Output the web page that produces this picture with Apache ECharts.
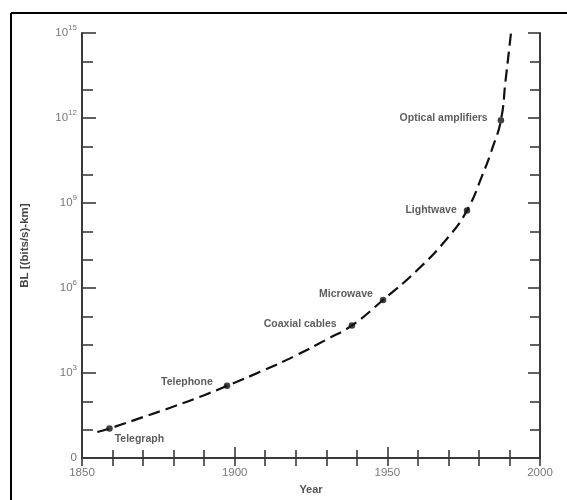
<!DOCTYPE html>
<html>
<head>
<meta charset="utf-8">
<script src="https://cdn.jsdelivr.net/npm/echarts@6/dist/echarts.min.js"></script>
<style>html,body{margin:0;padding:0;background:#fff}#c{width:567px;height:500px}</style>
</head>
<body>
<div id="c"></div>
<script>
// Dashed trend curve: year and BL [(bits/s)-km]
const curveYears = [1855, 1859, 1870, 1880, 1890, 1897.5, 1910, 1920, 1930, 1938.4, 1948.6, 1960, 1970, 1976.1, 1981, 1984.6, 1987.2, 1988.7, 1990.5];
const curveBL = [8.3, 11, 28, 66, 166, 355, 1320, 4170, 15100, 48000, 380000, 4.5e6, 6.3e7, 5.5e8, 8.9e9, 1e11, 8.3e11, 2e13, 1e15];

// Marked milestones
const milestones = ['Telegraph', 'Telephone', 'Coaxial cables', 'Microwave', 'Lightwave', 'Optical amplifiers'];
const milestoneYears = [1859, 1897.5, 1938.4, 1948.6, 1976.1, 1987.2];
const milestoneBL = [11, 355, 48000, 380000, 5.5e8, 8.3e11];

// Axis ticks
const xTickLabels = [1850, 1900, 1950, 2000];
const yTickExponents = [0, 3, 6, 9, 12, 15];

// label placement (style only)
const labelPlacement = [
  {position: 'right', distance: 2, offset: [0, 11]},
  {position: 'left', distance: 11, offset: [0, -4]},
  {position: 'left', distance: 12, offset: [0, -1]},
  {position: 'left', distance: 7, offset: [0, -6]},
  {position: 'left', distance: 7, offset: [0, 0]},
  {position: 'left', distance: 10, offset: [0, -2]}
];

const FONT = '"Liberation Sans", Arial, sans-serif';
const toExp = v => Math.log10(v);

const chart = echarts.init(document.getElementById('c'), null, {renderer: 'canvas'});

const axisLineStyle = {color: '#3a3a3a', width: 2};

chart.setOption({
  animation: false,
  backgroundColor: '#fff',
  grid: {left: 82, right: 27, top: 33, bottom: 38, containLabel: false},
  graphic: [
    {type: 'line', shape: {x1: 11, y1: 13, x2: 567, y2: 13}, style: {stroke: '#000', lineWidth: 2}, silent: true},
    {type: 'line', shape: {x1: 11, y1: 13, x2: 11, y2: 500}, style: {stroke: '#000', lineWidth: 2}, silent: true}
  ],
  xAxis: [{
    type: 'value', min: 1850, max: 2000, interval: 50, position: 'bottom',
    name: 'Year', nameLocation: 'middle', nameGap: 22,
    nameTextStyle: {fontFamily: FONT, fontSize: 11, fontWeight: 'bold', color: '#555'},
    axisLine: {show: true, lineStyle: axisLineStyle},
    axisTick: {show: true, inside: true, length: 11, lineStyle: {color: '#3a3a3a', width: 1.6}},
    minorTick: {show: true, splitNumber: 5, length: 8, lineStyle: {color: '#3a3a3a', width: 1.6}},
    axisLabel: {
      margin: 9, fontFamily: FONT, fontSize: 11.5, color: '#777',
      formatter: v => xTickLabels.indexOf(v) >= 0 ? String(v) : ''
    },
    splitLine: {show: false}
  }, {
    type: 'value', min: 1850, max: 2000, interval: 50, position: 'top',
    axisLine: {show: true, lineStyle: axisLineStyle},
    axisTick: {show: true, inside: true, length: 8, lineStyle: {color: '#3a3a3a', width: 1.6}},
    minorTick: {show: true, splitNumber: 5, length: 8, lineStyle: {color: '#3a3a3a', width: 1.6}},
    axisLabel: {show: false},
    splitLine: {show: false}
  }],
  yAxis: [{
    type: 'value', min: 0, max: 15, interval: 3, position: 'left',
    name: 'BL [(bits/s)-km]', nameLocation: 'middle', nameGap: 51, nameRotate: 90,
    nameTextStyle: {fontFamily: FONT, fontSize: 11.5, fontWeight: 'bold', color: '#444'},
    axisLine: {show: true, lineStyle: axisLineStyle},
    axisTick: {show: true, inside: true, length: 14, lineStyle: {color: '#3a3a3a', width: 1.6}},
    minorTick: {show: true, splitNumber: 3, length: 11, lineStyle: {color: '#3a3a3a', width: 1.6}},
    axisLabel: {
      margin: 5, fontFamily: FONT, color: '#777',
      formatter: v => {
        if (yTickExponents.indexOf(v) < 0) return '';
        return v === 0 ? '{b|0}' : '{b|10}{s|' + v + '}';
      },
      rich: {
        b: {fontFamily: FONT, fontSize: 11.5, color: '#777'},
        s: {fontFamily: FONT, fontSize: 8, color: '#777', padding: [0, 0, 10, 0], verticalAlign: 'bottom'}
      }
    },
    splitLine: {show: false}
  }, {
    type: 'value', min: 0, max: 15, interval: 3, position: 'right',
    axisLine: {show: true, lineStyle: axisLineStyle},
    axisTick: {show: true, inside: true, length: 12, lineStyle: {color: '#3a3a3a', width: 1.6}},
    minorTick: {show: true, splitNumber: 3, length: 10, lineStyle: {color: '#3a3a3a', width: 1.6}},
    axisLabel: {show: false},
    splitLine: {show: false}
  }],
  series: [{
    type: 'line',
    xAxisIndex: 0, yAxisIndex: 0,
    data: curveYears.map((y, i) => [y, toExp(curveBL[i])]),
    smooth: 0.5,
    showSymbol: false,
    clip: true,
    lineStyle: {color: '#111', width: 2.2, type: [12, 6]},
    z: 3
  }, {
    type: 'scatter',
    xAxisIndex: 0, yAxisIndex: 0,
    symbol: 'circle', symbolSize: 6.5,
    itemStyle: {color: '#111'},
    data: milestones.map((name, i) => ({
      name: name,
      value: [milestoneYears[i], toExp(milestoneBL[i])],
      label: Object.assign({show: true, formatter: '{b}'}, labelPlacement[i])
    })),
    label: {fontFamily: FONT, fontSize: 10.5, fontWeight: 'bold', color: '#333'},
    z: 4
  }]
});
</script>
</body>
</html>
